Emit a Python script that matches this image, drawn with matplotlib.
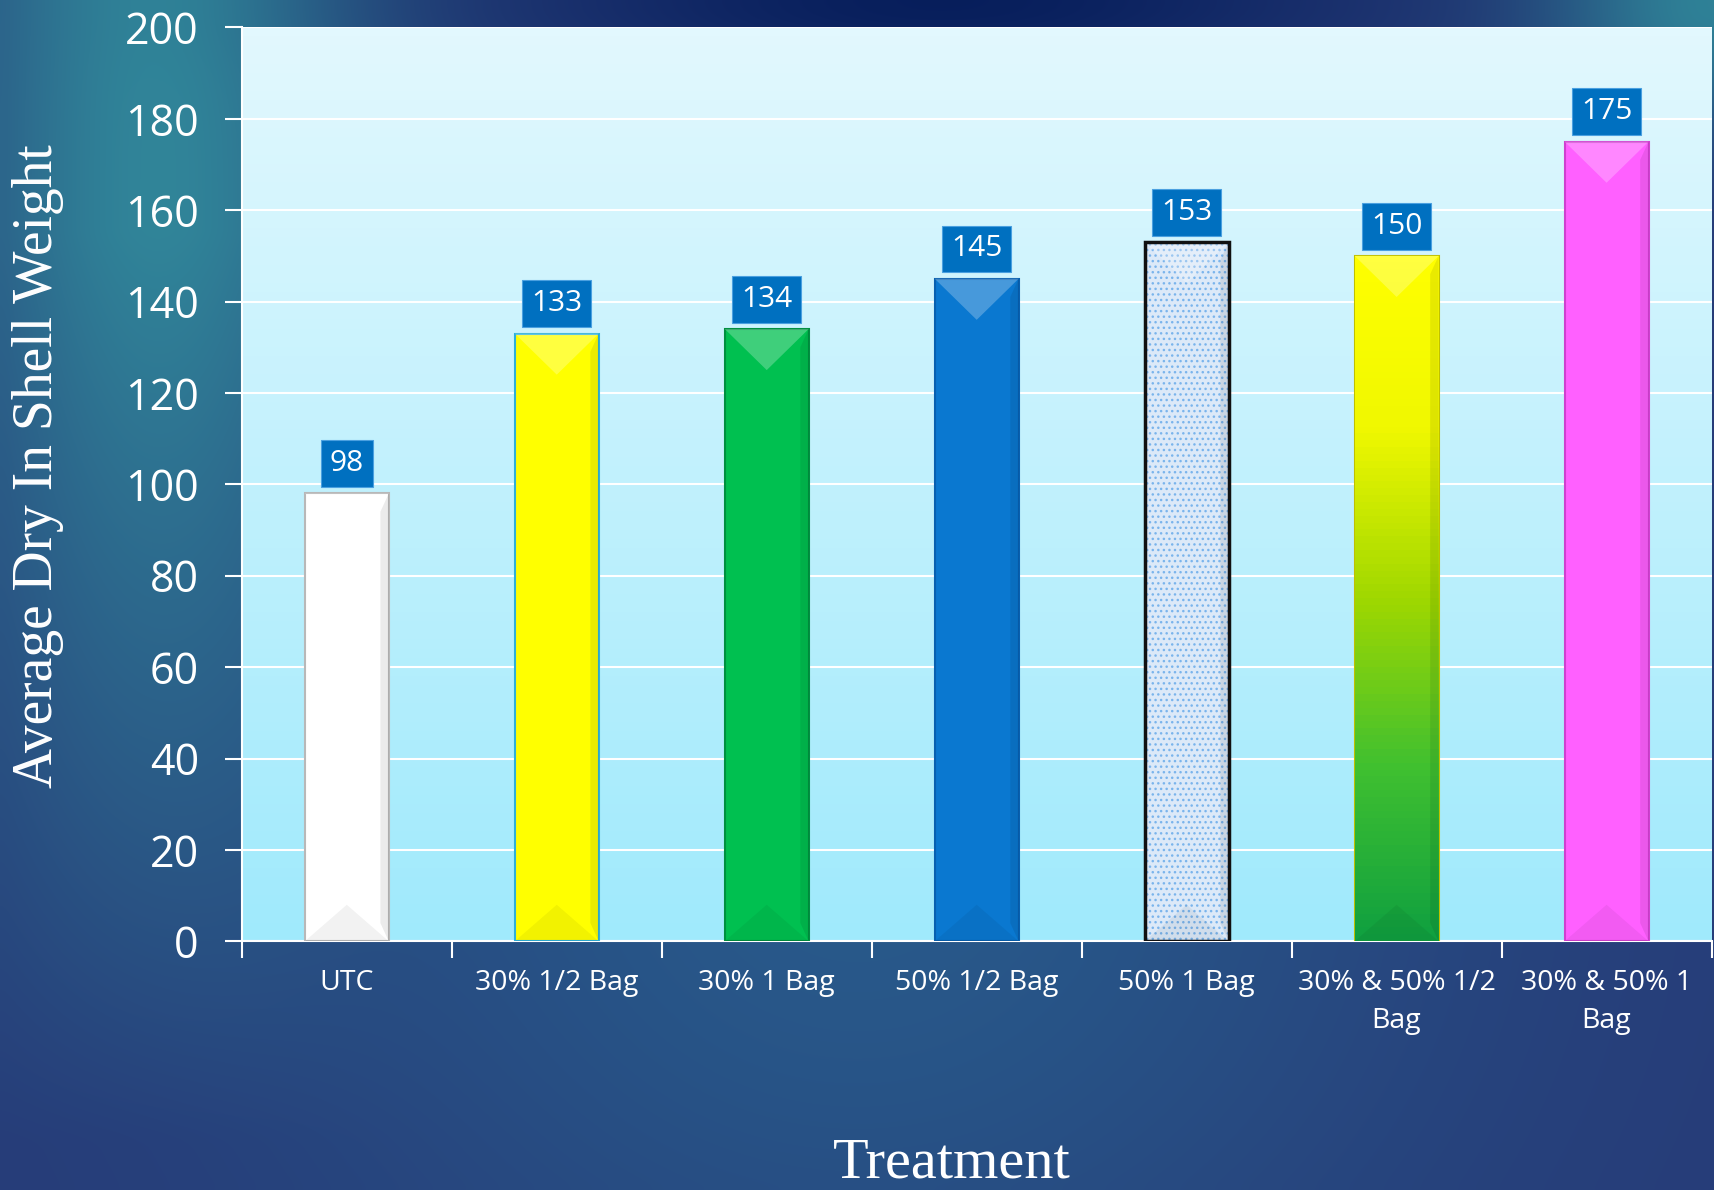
import numpy as np
import matplotlib.pyplot as plt
from matplotlib.patches import Polygon
from matplotlib.colors import LinearSegmentedColormap

# data
treatments = ["UTC", "30% 1/2 Bag", "30% 1 Bag", "50% 1/2 Bag", "50% 1 Bag",
              "30% & 50% 1/2\nBag", "30% & 50% 1\nBag"]
weights = [98, 133, 134, 145, 153, 150, 175]
bar_colors = ["#ffffff", "#ffff00", "#00c050", "#0a78d0", "#dce9f8", "#ffff00", "#ff60ff"]
edge_colors = ["#b8b8b8", "#30b0d8", "#009040", "#0860b0", "#111111", "#c0c000", "#d040d0"]

fig = plt.figure(figsize=(17.15, 11.9), dpi=100)

# background gradient for the whole slide
bg = fig.add_axes([0, 0, 1, 1], zorder=-5)
h, w = 120, 170
yy, xx = np.mgrid[0:1:h*1j, 0:1:w*1j]
dark = np.array([0.15, 0.23, 0.47])
teal = np.array([0.19, 0.52, 0.60])
navy = np.array([0.03, 0.12, 0.36])
mid = np.array([0.16, 0.38, 0.56])
img = dark * np.ones((h, w, 3))
t_mid = np.exp(-((xx - 0.5) ** 2) / 0.12 - ((yy - 0.72) ** 2) / 0.2)
img = img * (1 - t_mid[..., None] * 0.8) + mid * (t_mid[..., None] * 0.8)
t_teal = np.exp(-((xx - 0.09) ** 2) / 0.015) * np.clip(1.25 - 1.3 * yy, 0, 1)
img = img * (1 - t_teal[..., None]) + teal * t_teal[..., None]
t_tr = np.exp(-((xx - 1.0) ** 2) / 0.01 - (yy ** 2) / 0.01)
img = img * (1 - t_tr[..., None]) + teal * t_tr[..., None]
t_navy = np.exp(-((xx - 0.55) ** 2) / 0.06 - (yy ** 2) / 0.004)
img = img * (1 - t_navy[..., None]) + navy * t_navy[..., None]
bg.imshow(np.clip(img, 0, 1), aspect="auto", extent=(0, 1, 0, 1), origin="upper",
          interpolation="bicubic")
bg.axis("off")

ax = fig.add_axes([0.141, 0.209, 0.857, 0.768])
x = np.arange(len(treatments))

# plot area gradient
area = LinearSegmentedColormap.from_list("area", ["#a0eafc", "#e2f8fe"])
ax.imshow(np.linspace(0, 1, 100).reshape(-1, 1), cmap=area, aspect="auto",
          extent=(-0.5, len(treatments) - 0.5, 0, 200), origin="lower", zorder=0)

ax.set_yticks(np.arange(0, 201, 20))
ax.grid(axis="y", color="white", linewidth=1.5, zorder=1)
ax.set_axisbelow(True)

bw = 0.4
bars = ax.bar(x, weights, width=bw, color=bar_colors, edgecolor=edge_colors,
              linewidth=1.5, zorder=3)

# dotted pattern bar: hatch drawn in light blue, black outline on top
bars[4].set_visible(False)
ax.bar(x[4], weights[4], width=bw, color="#dce9f8", edgecolor="#7ab4ec",
       linewidth=0, hatch="...", zorder=3)
ax.bar(x[4], weights[4], width=bw, fill=False, edgecolor="#111111",
       linewidth=2.5, zorder=4.5)

# yellow-green gradient bar
yg = LinearSegmentedColormap.from_list("yg", ["#10a040", "#40c030", "#a0d800", "#f0f800", "#ffff00"])
im = ax.imshow(np.linspace(0, 1, 100).reshape(-1, 1), cmap=yg, aspect="auto",
               extent=(x[5] - bw / 2, x[5] + bw / 2, 0, weights[5]), origin="lower", zorder=3.5)
im.set_clip_path(bars[5])
ax.set_xlim(-0.5, len(treatments) - 0.5)
ax.set_ylim(0, 200)

# bevel highlights and shading
for xi, v in zip(x, weights):
    d = 9
    top = Polygon([[xi - bw / 2, v], [xi + bw / 2, v], [xi, v - d]],
                  closed=True, facecolor="white", alpha=0.25, edgecolor="none", zorder=4)
    ax.add_patch(top)
    right = Polygon([[xi + bw / 2, v], [xi + bw / 2, 0], [xi + bw / 2 - 0.04, 4], [xi + bw / 2 - 0.04, v - 4]],
                    closed=True, facecolor="black", alpha=0.08, edgecolor="none", zorder=4)
    ax.add_patch(right)
    bot = Polygon([[xi - bw / 2, 0], [xi + bw / 2, 0], [xi, 8]],
                  closed=True, facecolor="black", alpha=0.05, edgecolor="none", zorder=4)
    ax.add_patch(bot)

# value labels
for xi, v in zip(x, weights):
    ax.text(xi, v + 6.5, str(v), ha="center", va="center", color="white",
            fontsize=21.5, family="Open Sans", zorder=6,
            bbox=dict(boxstyle="square,pad=0.3", facecolor="#0070c0", edgecolor="#4aa0e0", linewidth=0.8))

# axes styling
for s in ["top", "right"]:
    ax.spines[s].set_visible(False)
ax.spines["left"].set_color("white")
ax.spines["bottom"].set_color("white")
ax.spines["left"].set_linewidth(1.5)
ax.spines["bottom"].set_linewidth(1.5)
ax.tick_params(axis="y", colors="white", labelsize=31, length=12, width=1.5, pad=19)
for lab in ax.get_yticklabels():
    lab.set_family("Open Sans")

ax.set_xticks(np.arange(-0.5, len(treatments), 1.0))
ax.set_xticklabels([])
ax.tick_params(axis="x", colors="white", length=12, width=1.5)
ax.set_xticks(x, minor=True)
ax.set_xticklabels(treatments, minor=True, fontsize=20.5, color="white",
                   family="Open Sans", linespacing=1.45)
ax.tick_params(axis="x", which="minor", length=0, pad=20)

ax.set_ylabel("Average Dry In Shell Weight", fontsize=40, color="white",
              family="Liberation Serif")
ax.yaxis.set_label_coords(-0.121, 0.52)
fig.text(0.555, 0.022, "Treatment", fontsize=42, color="white",
         family="Liberation Serif", ha="center", va="center")

fig.savefig("out.png", dpi=100)
